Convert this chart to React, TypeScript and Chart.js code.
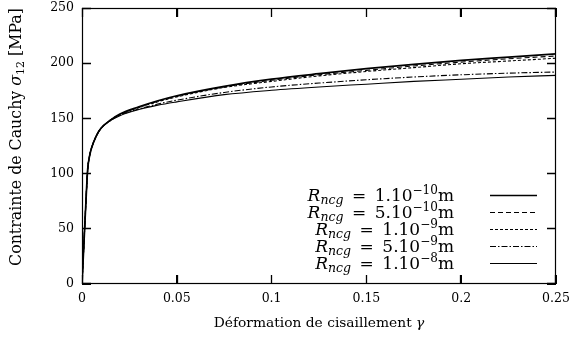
import React, { useEffect, useRef } from "react";
import { Chart, registerables } from "chart.js";

Chart.register(...registerables);

const gamma = [0, 0.0005, 0.001, 0.0015, 0.002, 0.003, 0.004, 0.005, 0.0075, 0.01, 0.015, 0.02, 0.03, 0.04, 0.05, 0.075, 0.1, 0.125, 0.15, 0.175, 0.2, 0.225, 0.25];
const r1e10 = [0, 18, 36, 54, 72, 104, 116, 123, 134, 141, 148.5, 154, 160.5, 166, 170.5, 179, 185.5, 190.5, 195, 199, 202.5, 205.5, 208.5];
const r5e10 = [0, 18, 36, 54, 72, 104, 116, 123, 134, 141, 148.5, 153.5, 160, 165.5, 170, 178.5, 184.5, 189.5, 193.5, 197.5, 201, 204, 206.5];
const r1e9 = [0, 18, 36, 54, 72, 104, 116, 123, 134, 141, 148.5, 153.5, 160, 165, 169.5, 178, 183.5, 188.5, 192.5, 196, 199.5, 202, 204.5];
const r5e9 = [0, 18, 36, 54, 72, 104, 116, 123, 134, 141, 148, 153, 158.5, 163, 166.5, 173.5, 178.5, 182, 185, 187.5, 189.5, 191, 192];
const r1e8 = [0, 18, 36, 54, 72, 104, 116, 123, 134, 141, 148, 152.5, 158, 162, 165, 171.5, 175.5, 178.5, 181, 183.5, 185.5, 187.5, 189];

const xMin = 0;
const xMax = 0.25;
const yMin = 0;
const yMax = 250;
const xTicks = [0, 0.05, 0.1, 0.15, 0.2, 0.25];
const yTicks = [0, 50, 100, 150, 200, 250];
const legendMantissas = ["1", "5", "1", "5", "1"];
const legendExponents = ["\u221210", "\u221210", "\u22129", "\u22129", "\u22128"];
const xTitle = "D\u00e9formation de cisaillement ";
const yTitle = "Contrainte de Cauchy ";

const FONT = '"DejaVu Serif", serif';
const TICK = 9;

const series = [r1e10, r5e10, r1e9, r5e9, r1e8];
const styles = [
  { dash: [] as number[], width: 1.7 },
  { dash: [5, 3], width: 1.1 },
  { dash: [3, 2], width: 1.1 },
  { dash: [6, 2, 1.5, 2], width: 1.1 },
  { dash: [] as number[], width: 1.1 },
];

type Seg = { t: string; size: number; italic?: boolean; dy?: number };

function drawSegs(ctx: CanvasRenderingContext2D, segs: Seg[], x: number, y: number, align: "left" | "right" | "center") {
  const widths = segs.map((s) => {
    ctx.font = `${s.italic ? "italic " : ""}${s.size}px ${FONT}`;
    return ctx.measureText(s.t).width;
  });
  const total = widths.reduce((a, b) => a + b, 0);
  let cx = align === "left" ? x : align === "right" ? x - total : x - total / 2;
  ctx.textAlign = "left";
  ctx.textBaseline = "alphabetic";
  segs.forEach((s, i) => {
    ctx.font = `${s.italic ? "italic " : ""}${s.size}px ${FONT}`;
    ctx.fillText(s.t, cx, y + (s.dy || 0));
    cx += widths[i];
  });
}

const framePlugin = {
  id: "frame",
  afterDraw(chart: any) {
    const ctx = chart.ctx as CanvasRenderingContext2D;
    const ca = chart.chartArea;
    const left = Math.round(ca.left);
    const right = Math.round(ca.right);
    const top = Math.round(ca.top);
    const bottom = Math.round(ca.bottom);
    ctx.save();
    ctx.setLineDash([]);
    ctx.fillStyle = "#000";
    ctx.strokeStyle = "#000";
    ctx.lineWidth = 1.2;
    ctx.strokeRect(left + 0.5, top + 0.5, right - left - 1, bottom - top - 1);
    ctx.lineWidth = 1.3;
    for (let k = 0; k < xTicks.length; k++) {
      const px = Math.round(left + ((xTicks[k] - xMin) / (xMax - xMin)) * (right - left - 1)) + 0.5;
      ctx.beginPath();
      ctx.moveTo(px, bottom);
      ctx.lineTo(px, bottom - TICK);
      ctx.moveTo(px, top);
      ctx.lineTo(px, top + TICK);
      ctx.stroke();
    }
    for (let k = 0; k < yTicks.length; k++) {
      const py = Math.round(bottom - 1 - ((yTicks[k] - yMin) / (yMax - yMin)) * (bottom - top - 1)) + 0.5;
      ctx.beginPath();
      ctx.moveTo(left, py);
      ctx.lineTo(left + TICK, py);
      ctx.moveTo(right, py);
      ctx.lineTo(right - TICK, py);
      ctx.stroke();
    }

    for (let i = 0; i < 5; i++) {
      const ry = 195 + 17 * i;
      drawSegs(
        ctx,
        [
          { t: "R", size: 17, italic: true },
          { t: "ncg", size: 12.5, italic: true, dy: 3.5 },
          { t: "\u2002=\u2002" + legendMantissas[i] + ".10", size: 17 },
          { t: legendExponents[i], size: 12, dy: -6.5 },
          { t: "m", size: 17 },
        ],
        454,
        ry + 5.5,
        "right"
      );
      ctx.beginPath();
      ctx.lineWidth = styles[i].width;
      ctx.setLineDash(styles[i].dash);
      ctx.moveTo(490, ry + 0.5);
      ctx.lineTo(537, ry + 0.5);
      ctx.stroke();
    }
    ctx.setLineDash([]);

    drawSegs(
      ctx,
      [
        { t: xTitle, size: 13.8 },
        { t: "\u03b3", size: 13.8, italic: true },
      ],
      (left + right) / 2,
      327,
      "center"
    );
    ctx.translate(21, 137);
    ctx.rotate(-Math.PI / 2);
    drawSegs(
      ctx,
      [
        { t: yTitle, size: 15.8 },
        { t: "\u03c3", size: 15.8, italic: true },
        { t: "12", size: 11, dy: 3 },
        { t: " [MPa]", size: 15.8 },
      ],
      0,
      0,
      "center"
    );
    ctx.restore();
  },
};

const tickGrid = {
  display: true,
  drawOnChartArea: false,
  drawTicks: true,
  tickLength: -TICK,
  color: "#000",
  lineWidth: 1,
};

export default function App() {
  const ref = useRef<HTMLCanvasElement | null>(null);
  useEffect(() => {
    if (!ref.current) return;
    const chart = new Chart(ref.current, {
      type: "line",
      data: {
        datasets: series.map((s, i) => ({
          label: "R" + i,
          data: gamma.map((g, k) => ({ x: g, y: s[k] })),
          borderColor: "#000",
          borderWidth: styles[i].width,
          borderDash: styles[i].dash,
          pointRadius: 0,
          fill: false,
          xAxisID: "x",
          yAxisID: "y",
          cubicInterpolationMode: "monotone" as const,
        })),
      },
      options: {
        animation: false,
        responsive: true,
        maintainAspectRatio: false,
        layout: { padding: { top: 8, right: 18, left: 0, bottom: 0 } },
        plugins: { legend: { display: false }, tooltip: { enabled: false } },
        scales: {
          x: {
            type: "linear",
            position: "bottom",
            min: xMin,
            max: xMax,
            afterBuildTicks: (scale: any) => {
              scale.ticks = xTicks.map((v) => ({ value: v }));
            },
            afterFit: (scale: any) => {
              scale.height = 59;
              scale.paddingLeft = 0;
              scale.paddingRight = 0;
            },
            grid: tickGrid,
            border: { display: false },
            ticks: {
              color: "#000",
              font: { family: FONT, size: 12.5 },
              padding: 7 + TICK,
              maxRotation: 0,
              callback: (v: any) => String(Math.round(Number(v) * 100) / 100),
            },
          },
          xTop: {
            type: "linear",
            position: "top",
            min: xMin,
            max: xMax,
            afterBuildTicks: (scale: any) => {
              scale.ticks = xTicks.map((v) => ({ value: v }));
            },
            afterFit: (scale: any) => {
              scale.height = 0;
              scale.paddingLeft = 0;
              scale.paddingRight = 0;
            },
            grid: tickGrid,
            border: { display: false },
            ticks: { display: true, color: "rgba(0,0,0,0)", font: { size: 1 }, padding: 0 },
          },
          y: {
            type: "linear",
            position: "left",
            min: yMin,
            max: yMax,
            afterBuildTicks: (scale: any) => {
              scale.ticks = yTicks.map((v) => ({ value: v }));
            },
            afterFit: (scale: any) => {
              scale.width = 82;
              scale.paddingTop = 0;
              scale.paddingBottom = 0;
            },
            grid: tickGrid,
            border: { display: false },
            ticks: {
              color: "#000",
              font: { family: FONT, size: 12.5 },
              padding: 8 + TICK,
              callback: (v: any) => String(v),
            },
          },
          yRight: {
            type: "linear",
            position: "right",
            min: yMin,
            max: yMax,
            afterBuildTicks: (scale: any) => {
              scale.ticks = yTicks.map((v) => ({ value: v }));
            },
            afterFit: (scale: any) => {
              scale.width = 0;
              scale.paddingTop = 0;
              scale.paddingBottom = 0;
            },
            grid: tickGrid,
            border: { display: false },
            ticks: { display: true, color: "rgba(0,0,0,0)", font: { size: 1 }, padding: 0 },
          },
        },
      },
      plugins: [framePlugin],
    });
    return () => chart.destroy();
  }, []);
  return (
    <div style={{ position: "absolute", left: 0, top: 0, width: 574, height: 343, background: "#fff" }}>
      <canvas ref={ref} />
    </div>
  );
}
